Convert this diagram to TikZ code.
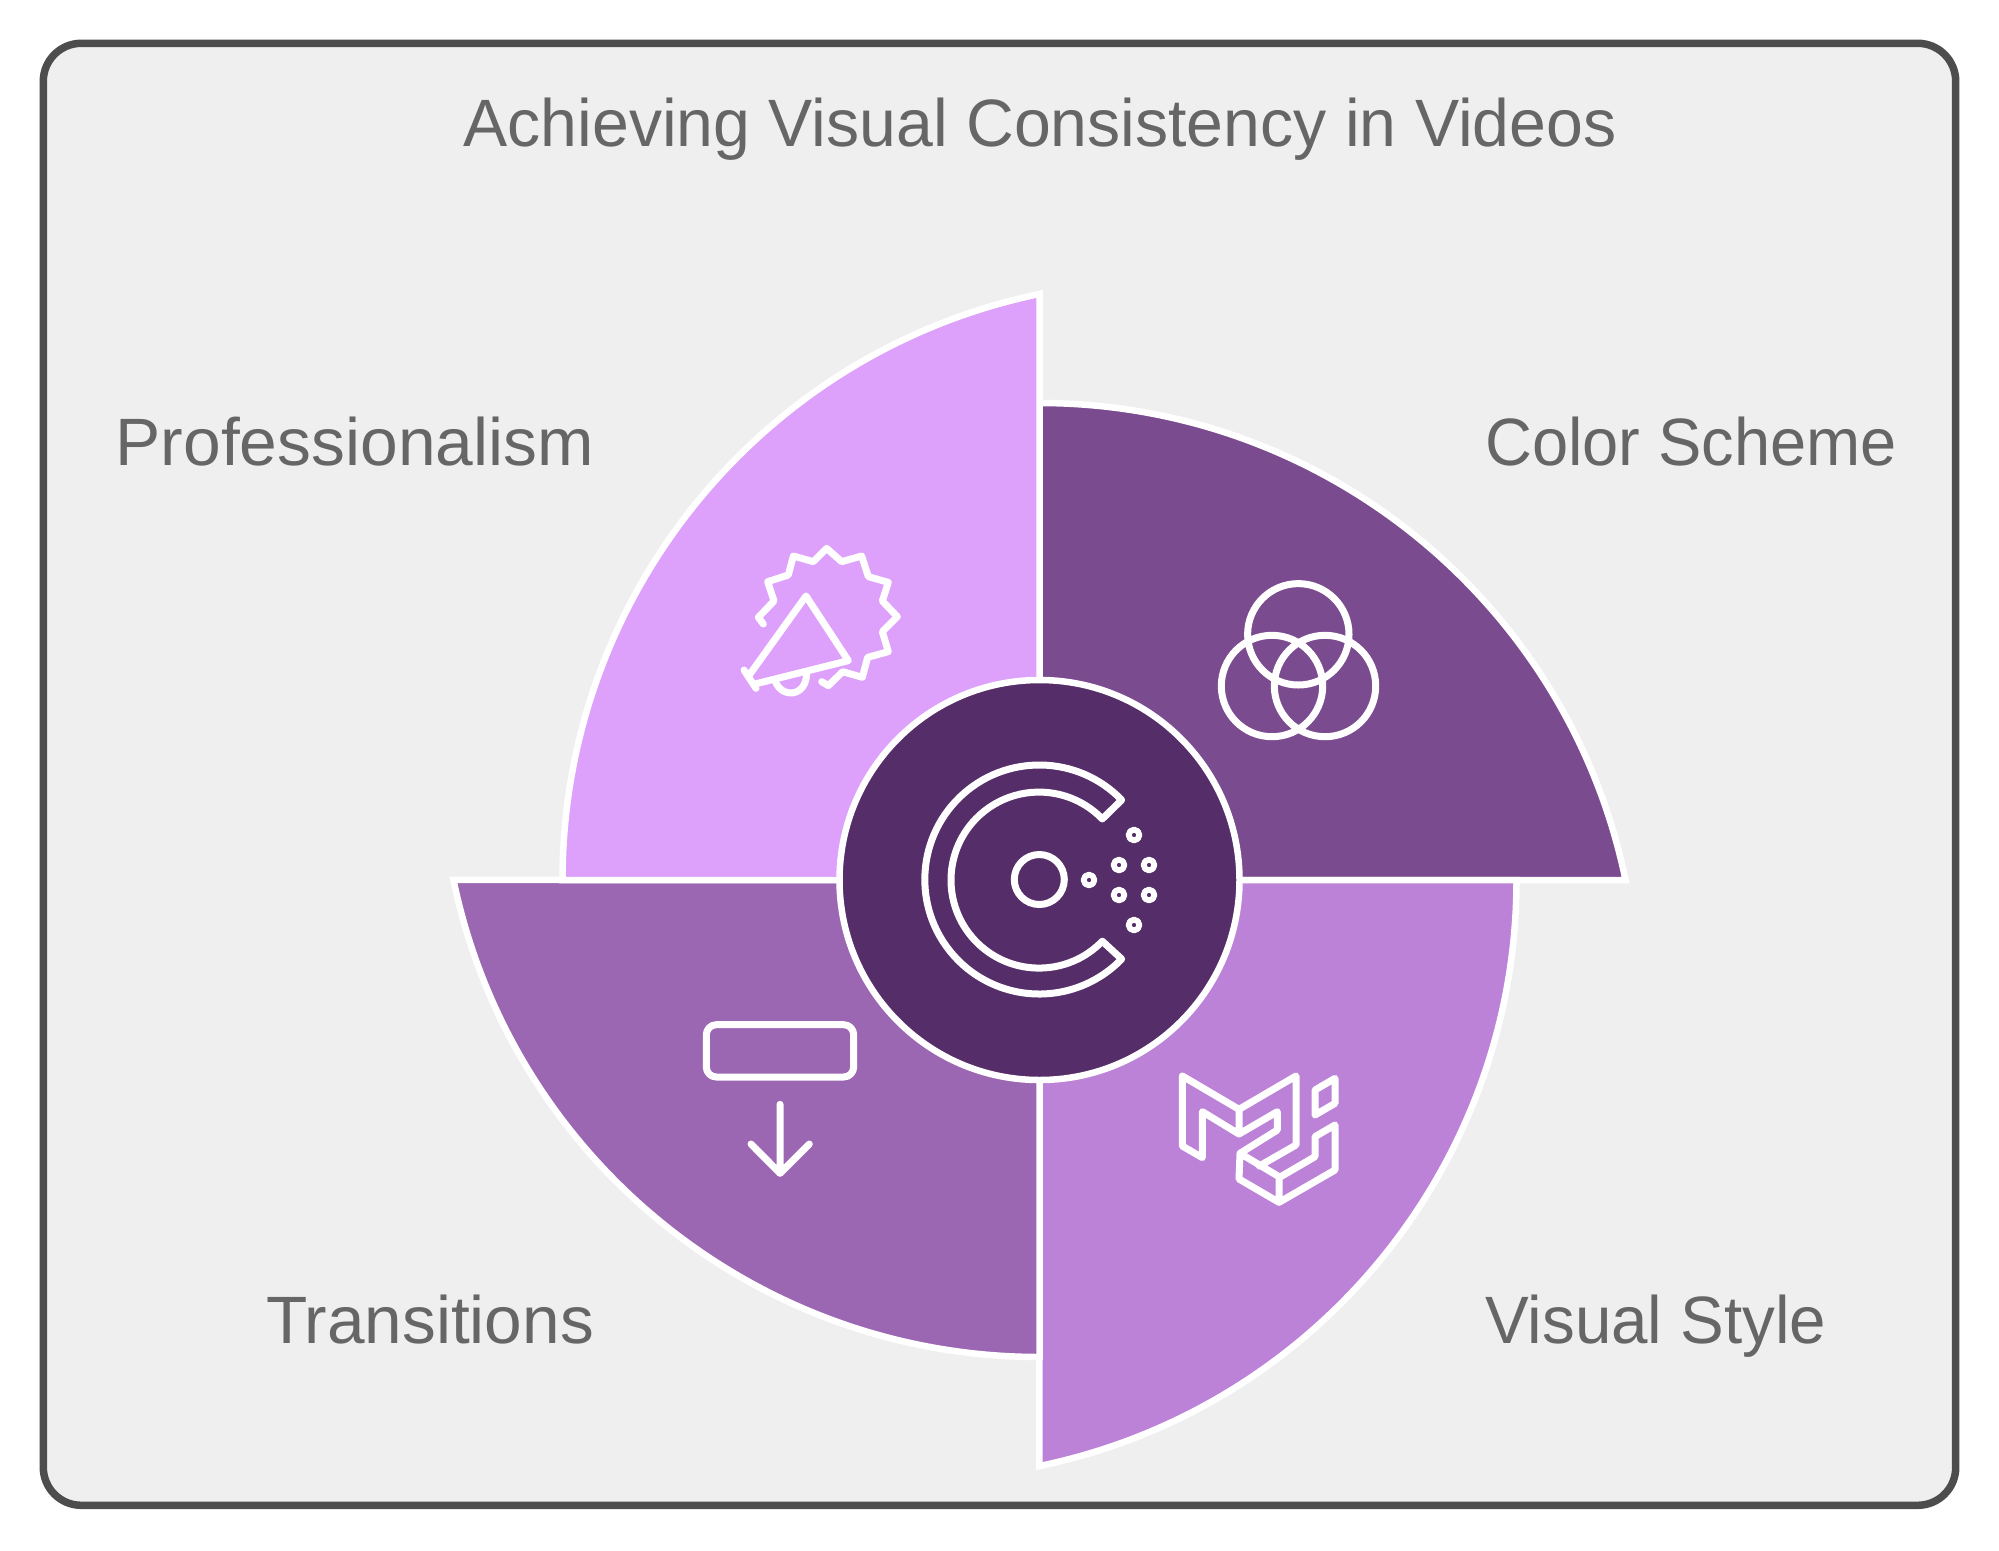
\documentclass[tikz,border=0pt]{standalone}
\usepackage{fontspec}
\setmainfont{Liberation Sans}
\definecolor{framec}{HTML}{4D4D4D}
\definecolor{bgc}{HTML}{EFEFEF}
\definecolor{textc}{HTML}{666666}
\definecolor{secA}{HTML}{7A4B8E}
\definecolor{secB}{HTML}{BC82D8}
\definecolor{secC}{HTML}{9B66B2}
\definecolor{secD}{HTML}{DDA0FB}
\definecolor{hubc}{HTML}{552D68}
\tikzset{
  sector/.style={draw=white,line width=6.5pt,line join=miter},
  icon/.style={draw=white,line width=7pt,line join=round,line cap=round},
  label/.style={text=textc,inner sep=0pt,font=\fontsize{67}{80}\selectfont},
}
\begin{document}
\begin{tikzpicture}[x=1pt,y=1pt,yscale=-1]
\useasboundingbox (0,0) rectangle (1999,1550);
\fill[white] (0,0) rectangle (1999,1550);
\draw[draw=framec,fill=bgc,line width=7.5pt,rounded corners=38pt] (43.3,43.3) rectangle (1955.7,1505.3);
\coordinate (C) at (1039.5,880);
\foreach \a/\c in {0/secA,90/secB,180/secC,270/secD}{
  \path[sector,fill=\c,rotate around={\a:(C)}] (1039.5,403) arc[start angle=-90,end angle=-11.71,radius=598.5pt] -- (C) -- cycle;
}
\node[circle,draw=white,fill=hubc,line width=6.5pt,minimum size=400pt,inner sep=0pt] (hub) at (C) {};
% labels
\node[label,anchor=base] (title) at (1040,146) {\scalebox{0.988}[1]{Achieving Visual Consistency in Videos}};
\node[label,anchor=base east] (prof) at (594,465) {\scalebox{1.011}[1]{Professionalism}};
\node[label,anchor=base west] (color) at (1485,465) {\scalebox{0.97}[1]{Color Scheme}};
\node[label,anchor=base east] (trans) at (594,1343) {\scalebox{1.008}[1]{Transitions}};
\node[label,anchor=base west] (style) at (1485,1343) {\scalebox{0.978}[1]{Visual Style}};
% hub icon
\draw[icon] (1039.3,879.5) ++(-44:114.5) arc[start angle=-44,end angle=-316,radius=114.5pt] -- (1102.3,941.2) arc[start angle=44,end angle=316,radius=88pt] -- cycle;
\draw[icon] (1039.3,879.5) circle[radius=25pt];
\foreach \p in {(1089,880),(1119,865),(1149,865),(1119,895),(1149,895),(1134,835),(1134,925)}
  \draw[icon,line width=5.8pt] \p circle[radius=5.4pt];
% venn
\draw[icon] (1298.3,634.3) circle[radius=50.7pt] (1272,686) circle[radius=50.7pt] (1325,686) circle[radius=50.7pt];
% transitions
\draw[icon,rounded corners=10pt] (706.3,1024.7) rectangle (853.7,1077);
\draw[icon] (780,1104.3) -- (780,1173.3) (751,1144) -- (780,1173.3) -- (809.3,1144);
% visual style
\begin{scope}[shift={(1170,1065)},scale=0.33333]
\draw[icon] (207,207) -- (207,133) (37,33) -- (207,133) -- (378,33) -- (378,240) -- (268,303)
  (37,33) -- (37,243) -- (97,278) -- (97,140) -- (207,207) -- (322,140) -- (322,195) -- (210,265) -- (327,335)
  (210,265) -- (207,342) -- (327,412) -- (495,315) -- (495,180) -- (435,215) -- (435,275) -- (327,338) -- (327,412)
  (495,40) -- (435,75) -- (435,150) -- (495,115) -- cycle;
\end{scope}
% professionalism
\begin{scope}[shift={(700,520)},scale=0.33333]
\draw[icon] (190,312) -- (175,292) -- (222,243) -- (203,185) -- (265,165) -- (280,108) -- (340,125) -- (380,85) -- (425,125) -- (485,108) -- (505,170) -- (565,187) -- (547,243) -- (592,290) -- (547,335) -- (565,395) -- (503,412) -- (487,472) -- (428,455) -- (385,497) -- (365,485);
\draw[icon] (150,462) -- (318,228) -- (445,422) -- (165,492) (132,450) -- (168,505);
\draw[icon] (225,480) .. controls (240,535) and (320,535) .. (320,458);
\end{scope}
\end{tikzpicture}
\end{document}
